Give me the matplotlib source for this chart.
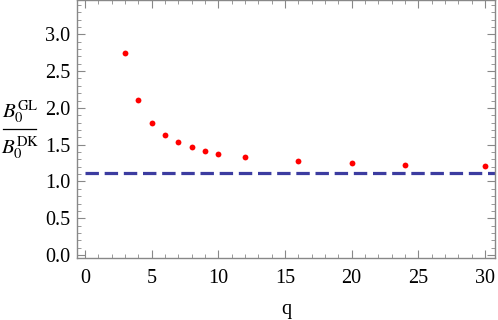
import numpy as np
import matplotlib
matplotlib.use("Agg")
import matplotlib.pyplot as plt
from matplotlib.ticker import MultipleLocator
from matplotlib.lines import Line2D

q = [3, 4, 5, 6, 7, 8, 9, 10, 12, 16, 20, 24, 30]
ratio = [2.745, 2.106, 1.80, 1.635, 1.53, 1.463, 1.413, 1.376, 1.327, 1.273, 1.245, 1.218, 1.209]
limit_q = [0, 32]
limit_val = [1.114, 1.114]

plt.rcParams['font.family'] = ['Liberation Serif', 'DejaVu Serif']
plt.rcParams['mathtext.fontset'] = 'stix'

W, H = 498, 320
fig = plt.figure(figsize=(W/100, H/100), dpi=100)
ax = fig.add_axes([77/W, 62.3/H, 418/W, 257.7/H])

ax.plot(limit_q, limit_val, color='#3c3ca0', lw=2.3, dashes=(4.2, 1.8))
ax.plot(q, ratio, 'o', color='#ff0000', ms=4.2, mec='none')

ax.set_xlim(-0.6, 30.75)
ax.set_ylim(-0.035, 3.465)
ax.xaxis.set_major_locator(MultipleLocator(5))
ax.xaxis.set_minor_locator(MultipleLocator(1))
ax.yaxis.set_major_locator(MultipleLocator(0.5))
ax.yaxis.set_minor_locator(MultipleLocator(0.1))
ax.yaxis.set_major_formatter(matplotlib.ticker.FormatStrFormatter('%.1f'))

gray = '#888888'
for s in ax.spines.values():
    s.set_color(gray)
    s.set_linewidth(1.0)
ax.tick_params(which='both', direction='in', top=True, right=True, color=gray,
               labelsize=14.5, labelcolor='black')
ax.tick_params(which='major', length=6, width=0.8)
ax.tick_params(axis='x', which='major', pad=8)
ax.tick_params(axis='y', which='major', pad=5)
ax.tick_params(which='minor', length=3, width=0.6)

ax.set_xlabel('q', fontsize=14.5, labelpad=9)

# y label as a stacked fraction
fig.text(20/W, 1 - 112/H, r'$B_0^{\mathrm{GL}}$', fontsize=15, ha='center', va='center')
fig.text(20/W, 1 - 148/H, r'$B_0^{\mathrm{DK}}$', fontsize=15, ha='center', va='center')
fig.add_artist(Line2D([3/W, 36/W], [1 - 129/H, 1 - 129/H], color='black', lw=0.9,
                      transform=fig.transFigure))

fig.savefig('out.png', dpi=100)
